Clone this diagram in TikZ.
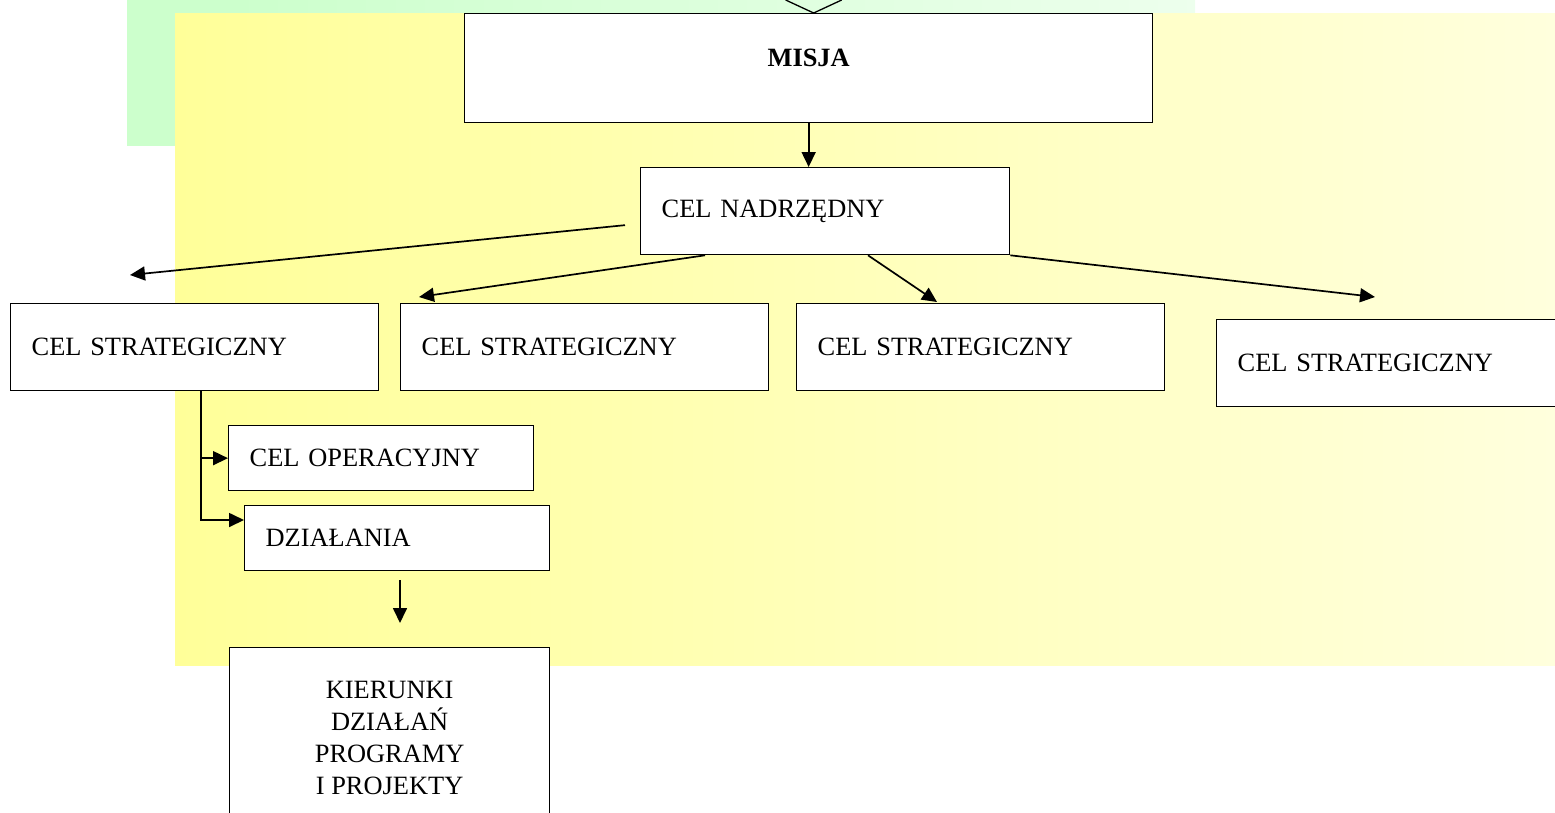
\documentclass[tikz,border=0pt]{standalone}
\usepackage{fontspec}
\setmainfont{Liberation Serif}
\usetikzlibrary{arrows.meta,calc}
\definecolor{bgyellow}{RGB}{255,255,153}
\definecolor{bggreen}{RGB}{204,255,204}
\pgfdeclarehorizontalshading{fadeyellow}{100bp}{color(0bp)=(bgyellow); color(25bp)=(bgyellow); color(100bp)=(white)}
\pgfdeclarehorizontalshading{fadegreen}{100bp}{color(0bp)=(bggreen); color(30bp)=(bggreen); color(100bp)=(white)}
\tikzset{
  box/.style = {rectangle, draw=black, fill=white, anchor=north west, inner ysep=0pt, line width=1.3pt,
                font=\fontsize{26.4}{32}\selectfont},
  box_l/.style = {box, align=left, inner xsep=21pt},
  box_c/.style = {box, align=center, inner xsep=0pt},
  arr/.style = {line width=1.7pt, -{Triangle[length=15pt,width=14pt]}},
}

\begin{document}
\begin{tikzpicture}[x=1pt, y=-1pt]
  \useasboundingbox (0,0) rectangle (1555,812);
  % backgrounds
  \fill[shading=fadegreen] (127,0) rectangle (1195,145);
  \fill[shading=fadeyellow] (175,13) rectangle (1555,665);

  \node [box_c, minimum width=688pt, minimum height=109pt, text depth=20pt] (misja) at (464,13) {\textbf{MISJA}};
  \node [box_l, text width=327pt, minimum height=87pt] (nadrz) at (640,167) {CEL NADRZĘDNY};
  \node [box_l, text width=326pt, minimum height=87pt] (strat1) at (10,303) {CEL STRATEGICZNY};
  \node [box_l, text width=326pt, minimum height=87pt] (strat2) at (400,303) {CEL STRATEGICZNY};
  \node [box_l, text width=326pt, minimum height=87pt] (strat3) at (796,303) {CEL STRATEGICZNY};
  \node [box_l, text width=303pt, minimum height=87pt] (strat4) at (1216,319) {CEL STRATEGICZNY};
  \node [box_l, text width=263pt, minimum height=65pt] (oper) at (228,425) {CEL OPERACYJNY};
  \node [box_l, text width=263pt, minimum height=65pt] (dzial) at (244,505) {DZIAŁANIA};
  \node [box_c, minimum width=320pt, minimum height=180pt] (kier) at (229,647)
    {KIERUNKI\\DZIAŁAŃ\\PROGRAMY\\I PROJEKTY};

  % open tip over the mission box
  \coordinate (v_tip) at ($(misja.north)+(5,0)$);
  \draw [line width=1.3pt] ($(v_tip)+(-28,-13)$) -- (v_tip) -- ($(v_tip)+(28,-13)$);

  \draw [arr] (misja.south) -- (misja.south |- nadrz.north);

  \coordinate (n_out1) at ($(nadrz.west)+(-15,14)$);
  \coordinate (n_out2) at ($(nadrz.south west)+(65,0)$);
  \coordinate (n_out3) at ($(nadrz.south west)+(228,0)$);
  \coordinate (s_in1) at ($(strat1.north west)+(120,-28)$);
  \coordinate (s_in2) at ($(strat2.north west)+(19,-6)$);
  \coordinate (s_in3) at ($(strat3.north west)+(141,-1)$);
  \coordinate (s_in4) at ($(strat4.north west)+(159,-22)$);
  \draw [arr] (n_out1) -- (s_in1);
  \draw [arr] (n_out2) -- (s_in2);
  \draw [arr] (n_out3) -- (s_in3);
  \draw [arr] (nadrz.south east) -- (s_in4);

  \coordinate (drop) at ($(strat1.south west)+(191,0)$);
  \coordinate (d_in) at ($(dzial.north west)+(0,15)$);
  \draw [arr] (drop) |- (oper.west);
  \draw [arr] (drop) |- (d_in);

  \coordinate (d_out) at ($(dzial.south west)+(156,9)$);
  \coordinate (k_in) at ($(kier.north west)+(171,-24)$);
  \draw [arr] (d_out) -- (k_in);
\end{tikzpicture}
\end{document}
